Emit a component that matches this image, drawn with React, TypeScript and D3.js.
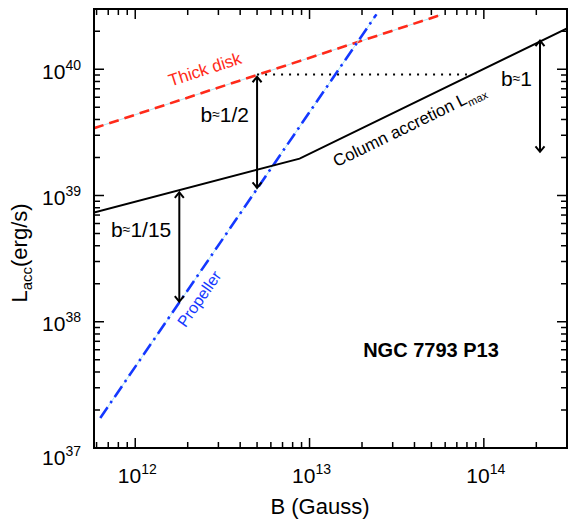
import React, { useEffect, useRef } from 'react';
import * as d3 from 'd3';

const width = 568;
const height = 520;

// axis ranges (B in Gauss, L in erg/s)
const bRange = [5.8e11, 3.0e14];
const lRange = [1e37, 3.0e40];

// model curves
const thickDiskB = [5.8e11, 5.6e13];
const thickDiskL = [3.41e39, 2.68e40];
const propellerB = [6.3e11, 2.42e13];
const propellerL = [1.73e37, 2.72e40];
const columnB = [5.8e11, 8.77e12, 3.0e14];
const columnL = [7.33e38, 1.96e39, 2.11e40];
const dottedB = [5.0e12, 8.0e13];
const dottedL = [9.1e39, 9.1e39];

// double-headed arrows
const arrowB = [1.79e12, 5.0e12, 2.1e14];
const arrowTop = [1.07e39, 8.8e39, 1.7e40];
const arrowBottom = [1.43e38, 1.14e39, 2.2e39];
const arrowLabels = ['1/15', '1/2', '1'];

const font = '"Liberation Sans", Arial, sans-serif';

function App() {
  const ref = useRef<SVGSVGElement>(null);

  useEffect(() => {
    const svg = d3.select(ref.current);
    svg.selectAll('*').remove();

    const margin = { top: 9, right: 1, bottom: 72, left: 94 };
    const x = d3.scaleLog().domain(bRange).range([margin.left, width - margin.right]);
    const y = d3.scaleLog().domain(lRange).range([height - margin.bottom, margin.top]);
    const [x0, x1] = x.range();
    const [y0, y1] = y.range();

    const defs = svg.append('defs');
    defs.append('clipPath').attr('id', 'plotclip')
      .append('rect').attr('x', x0).attr('y', y1).attr('width', x1 - x0).attr('height', y0 - y1);
    ['start', 'end'].forEach(k => {
      defs.append('marker')
        .attr('id', 'arr-' + k)
        .attr('viewBox', '-6 -6 12 12')
        .attr('markerWidth', 12).attr('markerHeight', 12)
        .attr('markerUnits', 'userSpaceOnUse')
        .attr('orient', k === 'end' ? 'auto' : 'auto-start-reverse')
        .append('path')
        .attr('d', 'M -5 -4.5 L 0.5 0 L -5 4.5')
        .attr('fill', 'none').attr('stroke', '#000').attr('stroke-width', 2);
    });

    const isMajor = (v: number) => Math.abs(Math.log10(v) - Math.round(Math.log10(v))) < 1e-6;

    // ticks on all four sides, pointing inward
    const ax = svg.append('g').attr('stroke', '#000').attr('stroke-width', 1.5);
    x.ticks().forEach(t => {
      const len = isMajor(t) ? 10 : 6;
      ax.append('line').attr('x1', x(t)).attr('x2', x(t)).attr('y1', y0).attr('y2', y0 - len);
      ax.append('line').attr('x1', x(t)).attr('x2', x(t)).attr('y1', y1).attr('y2', y1 + len);
    });
    y.ticks().forEach(t => {
      const len = isMajor(t) ? 10 : 6;
      ax.append('line').attr('y1', y(t)).attr('y2', y(t)).attr('x1', x0).attr('x2', x0 + len);
      ax.append('line').attr('y1', y(t)).attr('y2', y(t)).attr('x1', x1).attr('x2', x1 - len);
    });

    // tick labels
    const lab = svg.append('g').attr('font-family', font).attr('fill', '#000');
    x.ticks().filter(isMajor).forEach(t => {
      const tx = lab.append('text').attr('x', x(t) + 2).attr('y', y0 + 35)
        .attr('text-anchor', 'middle').attr('font-size', 21);
      tx.append('tspan').text('10');
      tx.append('tspan').attr('dy', -9).attr('font-size', 14).text(String(Math.round(Math.log10(t))));
    });
    y.ticks().filter(isMajor).forEach(t => {
      const low = Math.abs(y(t) - y0) < 1;
      const tx = lab.append('text').attr('x', x0 - 13).attr('y', y(t) + (low ? 17 : 9.5))
        .attr('text-anchor', 'end').attr('font-size', 21);
      tx.append('tspan').text('10');
      tx.append('tspan').attr('dy', -9).attr('font-size', 14).text(String(Math.round(Math.log10(t))));
    });

    // axis titles
    lab.append('text').attr('x', 320).attr('y', 514)
      .attr('text-anchor', 'middle').attr('font-size', 22).text('B (Gauss)');
    const yt = lab.append('text')
      .attr('transform', `translate(27, 253) rotate(-90)`)
      .attr('text-anchor', 'middle').attr('font-size', 22);
    yt.append('tspan').text('L');
    yt.append('tspan').attr('dy', 5).attr('font-size', 15).text('acc');
    yt.append('tspan').attr('dy', -5).text('(erg/s)');

    const plot = svg.append('g').attr('clip-path', 'url(#plotclip)');
    const line = d3.line<[number, number]>().x(d => x(d[0])).y(d => y(d[1]));
    const pts = (bs: number[], ls: number[]) => bs.map((b, i) => [b, ls[i]] as [number, number]);

    // thick disk
    plot.append('path').attr('d', line(pts(thickDiskB, thickDiskL)))
      .attr('stroke', '#aee6f5').attr('stroke-width', 1).attr('fill', 'none');
    plot.append('path').attr('d', line(pts(thickDiskB, thickDiskL)))
      .attr('stroke', '#ff2a1a').attr('stroke-width', 2.6).attr('fill', 'none')
      .attr('stroke-dasharray', '10 6');

    // propeller
    plot.append('path').attr('d', line(pts(propellerB, propellerL)))
      .attr('stroke', '#aee6f5').attr('stroke-width', 1).attr('fill', 'none');
    plot.append('path').attr('d', line(pts(propellerB, propellerL)))
      .attr('stroke', '#1438ff').attr('stroke-width', 2.6).attr('fill', 'none')
      .attr('stroke-dasharray', '13 5 2.5 5');

    // column accretion
    plot.append('path').attr('d', line(pts(columnB, columnL)))
      .attr('stroke', '#000').attr('stroke-width', 2).attr('fill', 'none');

    // dotted level
    plot.append('path').attr('d', line(pts(dottedB, dottedL)))
      .attr('stroke', '#000').attr('stroke-width', 2).attr('fill', 'none')
      .attr('stroke-dasharray', '2 6');

    // arrows
    arrowB.forEach((b, i) => {
      const top = y(arrowTop[i]);
      const bot = y(arrowBottom[i]);
      plot.append('line')
        .attr('x1', x(b)).attr('x2', x(b)).attr('y1', top + 1).attr('y2', bot - 1)
        .attr('stroke', '#000').attr('stroke-width', 2)
        .attr('marker-start', 'url(#arr-start)').attr('marker-end', 'url(#arr-end)');
      const t = svg.append('text').attr('font-family', font).attr('font-size', 21)
        .attr('x', x(b) - 8).attr('y', (top + bot) / 2 - 10)
        .attr('text-anchor', 'end');
      t.append('tspan').text('b');
      t.append('tspan').attr('font-size', 14).attr('dy', -3).text('≈');
      t.append('tspan').attr('dy', 3).text(arrowLabels[i]);
    });

    // curve labels
    svg.append('text').attr('font-family', font).attr('font-size', 17).attr('fill', '#ff2a1a')
      .attr('transform', `translate(${x(1.6e12)}, ${y(7.3e39)}) rotate(-18)`)
      .text('Thick disk');
    svg.append('text').attr('font-family', font).attr('font-size', 16).attr('fill', '#1438ff')
      .attr('transform', `translate(${x(1.94e12)}, ${y(8.9e37)}) rotate(-55)`)
      .text('Propeller');
    const ct = svg.append('text').attr('font-family', font).attr('font-size', 17).attr('fill', '#000')
      .attr('transform', `translate(${x(1.43e13)}, ${y(1.67e39)}) rotate(-26)`);
    ct.append('tspan').text('Column accretion L');
    ct.append('tspan').attr('font-size', 11).attr('dy', 4).text('max');

    svg.append('text').attr('font-family', font).attr('font-size', 20).attr('font-weight', 'bold')
      .attr('x', 431).attr('y', 357).attr('text-anchor', 'middle').text('NGC 7793 P13');

    // frame
    svg.append('rect').attr('x', x0).attr('y', y1).attr('width', x1 - x0).attr('height', y0 - y1)
      .attr('fill', 'none').attr('stroke', '#000').attr('stroke-width', 2);
  }, []);

  return (
    <svg ref={ref} width={width} height={height}
      style={{ position: 'absolute', left: 0, top: 0, background: '#fff' }} />
  );
}

export default App;
